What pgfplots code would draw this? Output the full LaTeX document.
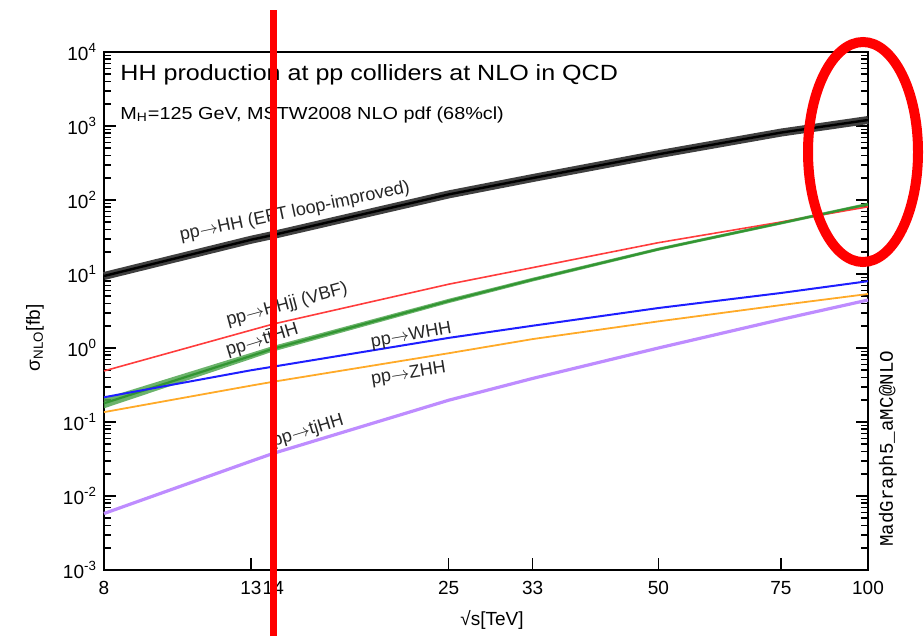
\documentclass[border=0pt]{standalone}
\usepackage{fontspec}
\setmainfont{Liberation Sans}
\setmonofont{Liberation Mono}
\newfontfamily\widefont{Liberation Sans}[FakeStretch=1.14]
\usepackage{pgfplots}
\pgfplotsset{compat=1.18}
\usepgfplotslibrary{fillbetween}

\definecolor{cred}{RGB}{255,60,60}
\definecolor{cgreen}{RGB}{50,150,50}
\definecolor{cblue}{RGB}{30,30,255}
\definecolor{corange}{RGB}{255,170,40}
\definecolor{cpurple}{RGB}{190,140,255}
\definecolor{anno}{RGB}{255,0,0}

\begin{document}
\begin{tikzpicture}
\begin{axis}[
  at={(0,0)}, anchor=south west,
  scale only axis, width=382pt, height=259pt,
  xmode=log, ymode=log,
  xmin=8, xmax=100, ymin=1e-3, ymax=1e4,
  xtick={8,13,14,25,33,50,75,100},
  xticklabels={8,13,14,25,33,50,75,100},
  xminorticks=false,
  ytick={1e-3,1e-2,1e-1,1,1e1,1e2,1e3,1e4},
  yticklabels={10\textsuperscript{-3},10\textsuperscript{-2},10\textsuperscript{-1},10\textsuperscript{0},10\textsuperscript{1},10\textsuperscript{2},10\textsuperscript{3},10\textsuperscript{4}},
  xtick pos=left, ytick pos=both, yticklabel pos=left,
  axis line style={line width=1pt},
  major tick length=6pt, minor tick length=3.5pt,
  every tick/.style={black, line width=0.8pt},
  tick label style={font=\fontsize{9.5}{11}\selectfont},
  xticklabel style={yshift=-2pt},
  xlabel={\fontsize{9.5}{11}\selectfont √s[TeV]},
  xlabel style={yshift=-1pt, xshift=3pt},
  clip=false,
]
% black band: pp -> HH
\addplot[black!75, line width=4pt, line join=round] coordinates {(8,9.4)(13,29)(14,33.7)(25,119)(33,198)(50,415)(75,815)(100,1205)};
\addplot[black, line width=1.2pt, line join=round] coordinates {(8,9.4)(13,29)(14,33.7)(25,119)(33,198)(50,415)(75,815)(100,1205)};
% red: VBF
\addplot[cred, line width=0.8pt] coordinates {(8,0.49)(13,1.74)(14,2.11)(25,7.28)(33,12.2)(50,26.5)(75,50.4)(100,81)};
% green band: ttHH
\addplot[name path=gu, draw=none] coordinates {(8,0.209)(13,0.858)(14,1.068)(25,4.62)(33,8.90)(50,22.7)(75,51.3)(100,91.9)};
\addplot[name path=gl, draw=none] coordinates {(8,0.153)(13,0.709)(14,0.899)(25,4.04)(33,7.92)(50,20.6)(75,46.6)(100,83.3)};
\addplot[cgreen!85, opacity=0.85] fill between[of=gu and gl];
\addplot[cgreen, line width=1.1pt] coordinates {(8,0.179)(13,0.78)(14,0.98)(25,4.32)(33,8.4)(50,21.6)(75,48.9)(100,87.5)};
% blue: WHH
\addplot[cblue, line width=1pt] coordinates {(8,0.216)(13,0.50)(14,0.56)(25,1.37)(33,2.0)(50,3.47)(75,5.54)(100,8.0)};
% orange: ZHH
\addplot[corange, line width=0.9pt] coordinates {(8,0.136)(13,0.31)(14,0.35)(25,0.85)(33,1.32)(50,2.29)(75,3.8)(100,5.37)};
% purple: tjHH
\addplot[cpurple, line width=1.6pt, line join=round] coordinates {(8,0.0058)(13,0.0295)(14,0.0377)(25,0.197)(33,0.388)(50,1.0)(75,2.43)(100,4.45)};

% curve labels
\begin{scope}[every node/.style={font=\fontsize{9}{10}\selectfont, inner sep=0pt, text=black!85}]
\node[rotate=12] at (axis cs:15.04,68.8) {pp$\rightarrow$HH (EFT loop-improved)};
\node[rotate=15] at (axis cs:14.65,3.81) {pp$\rightarrow$HHjj (VBF)};
\node[rotate=17] at (axis cs:13.49,1.28) {pp$\rightarrow$t\={t}HH};
\node[rotate=10] at (axis cs:22.1,1.45) {pp$\rightarrow$WHH};
\node[rotate=9] at (axis cs:21.9,0.445) {pp$\rightarrow$ZHH};
\node[rotate=17] at (axis cs:15.7,0.0756) {pp$\rightarrow$tjHH};
\end{scope}

% titles
\node[anchor=base west, inner sep=0pt, font=\widefont\fontsize{11}{13}\selectfont] at ([xshift=8pt, yshift=-14pt]rel axis cs:0,1) {HH production at pp colliders at NLO in QCD};
\node[anchor=base west, inner sep=0pt, font=\widefont\fontsize{8.7}{11}\selectfont] at ([xshift=8pt, yshift=-33.5pt]rel axis cs:0,1) {M\textsubscript{H}=125 GeV, MSTW2008 NLO pdf (68\%cl)};
% y label
\node[rotate=90, inner sep=0pt, font=\fontsize{9.5}{11}\selectfont] at ([xshift=-34.5pt]rel axis cs:0,0.448) {σ\textsubscript{NLO}[fb]};
% right label
\node[rotate=90, inner sep=0pt, font=\ttfamily\fontsize{9.6}{11}\selectfont] at ([xshift=10pt]rel axis cs:1,0.234) {MadGraph5\_aMC@NLO};

% annotation: red line at 14 TeV
\draw[anno, line width=3.3pt] ([yshift=-33pt]axis cs:14,1e-3) -- ([yshift=21pt]axis cs:14,1e4);
\end{axis}
% annotation ellipse
\draw[anno, line width=5pt] (379.5pt,209pt) ellipse (27.5pt and 55pt);
\path (-52pt,-33pt) rectangle (410pt,285pt);
\end{tikzpicture}
\end{document}
